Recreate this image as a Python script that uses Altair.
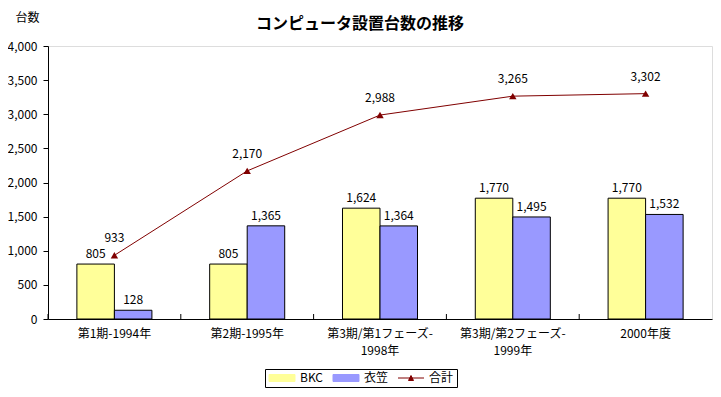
import altair as alt
import pandas as pd

categories = ["第1期-1994年", "第2期-1995年", "第3期/第1フェーズ-\n1998年",
              "第3期/第2フェーズ-\n1999年", "2000年度"]
bkc = [805, 805, 1624, 1770, 1770]
kinugasa = [128, 1365, 1364, 1495, 1532]
total = [933, 2170, 2988, 3265, 3302]
series_names = ["BKC", "衣笠", "合計"]
colors = ["#FFFF99", "#9999FF", "#800000"]
y_ticks = list(range(0, 4001, 500))

rows = []
for i, c in enumerate(categories):
    rows.append({"cat": c, "series": "BKC", "value": bkc[i]})
    rows.append({"cat": c, "series": "衣笠", "value": kinugasa[i]})
    rows.append({"cat": c, "series": "合計", "value": total[i]})
df = pd.DataFrame(rows)
cat_df = pd.DataFrame({"cat": categories})

W, H = 664, 273
FONT = "Noto Sans CJK JP"

swatch = "M-1,-0.7H4.2V0.7H-1Z"
linesym = "M-1,0H4.2M1.1,0.5L1.6,-0.5L2.1,0.5Z"

color = alt.Color(
    "series:N",
    scale=alt.Scale(domain=series_names, range=colors),
    legend=alt.Legend(
        title=None, orient="none", legendX=217, legendY=323,
        direction="horizontal", columns=3, strokeColor="black", padding=3,
        symbolSize=100, labelFont=FONT, labelFontSize=12, labelColor="black",
        columnPadding=7, labelOffset=20, symbolStrokeWidth=1,
        symbolOpacity=1,
        symbolType={"expr": f"datum.value === '合計' ? '{linesym}' : '{swatch}'"},
        symbolStrokeColor={"expr": "datum.value === '合計' ? '#800000' : 'black'"},
        symbolFillColor={"expr": "datum.value === '合計' ? '#800000' : datum.value === 'BKC' ? '#FFFF99' : '#9999FF'"},
    ),
)

x = alt.X("cat:N", sort=categories,
          scale=alt.Scale(paddingInner=0, paddingOuter=0),
          axis=alt.Axis(title=None, labelExpr="split(datum.label, '\\n')",
                        ticks=False, labelAngle=0, labelPadding=9,
                        labelFont=FONT, labelFontSize=12, labelColor="black",
                        labelLineHeight=17, domainColor="black"))
y = alt.Y("value:Q", scale=alt.Scale(domain=[0, 4000], nice=False),
          axis=alt.Axis(values=y_ticks, format=",.0f", title="台数", titleAngle=0,
                        titleX=-33, titleY=-29, titleAlign="left",
                        titleBaseline="middle", titleFont=FONT, titleFontSize=12,
                        titleFontWeight="normal", titleColor="black",
                        tickSize=5, tickColor="black", domainColor="black",
                        labelFont=FONT, labelFontSize=12, labelColor="black",
                        labelPadding=6, grid=False))

xoff = alt.XOffset("series:N", sort=["BKC", "衣笠"],
                   scale=alt.Scale(domain=["BKC", "衣笠"], paddingInner=0,
                                   paddingOuter=0.77))

base = alt.Chart(df)
bars_df = base.transform_filter("datum.series !== '合計'")
tot_df = base.transform_filter("datum.series === '合計'")

bars = bars_df.mark_bar(stroke="black", strokeWidth=1).encode(
    x=x, xOffset=xoff, y=y, color=color)
bar_text = bars_df.mark_text(baseline="alphabetic", dy=-6, font=FONT,
                             fontSize=12, color="black").encode(
    x=x, xOffset=xoff, y=y, text=alt.Text("value:Q", format=","))
line = tot_df.mark_line(strokeWidth=1).encode(x=x, y=y, color=color)
pts = tot_df.mark_point(shape="triangle-up", filled=True, size=55,
                        opacity=1).encode(x=x, y=y, color=color)
tot_text = tot_df.mark_text(baseline="alphabetic", dy=-13, font=FONT,
                            fontSize=12, color="black").encode(
    x=x, y=y, text=alt.Text("value:Q", format=","))
ticks = alt.Chart(cat_df).mark_rule(color="black", strokeWidth=1).encode(
    x=alt.X("cat:N", sort=categories, bandPosition=0),
    y=alt.value(H), y2=alt.value(H - 5))

chart = alt.layer(bars, bar_text, line, pts, tot_text, ticks).properties(
    width=W, height=H,
    title=alt.TitleParams("コンピュータ設置台数の推移", font=FONT, fontSize=16,
                          fontWeight="bold", color="black", dx=-20, offset=-21),
    autosize=alt.AutoSizeParams(type="none"),
    padding={"left": 40, "top": 38, "right": 1, "bottom": 70},
).configure_view(stroke="black", strokeWidth=1).configure(background="white")

chart.save("out.html", embed_options={"renderer": "svg", "actions": False})
